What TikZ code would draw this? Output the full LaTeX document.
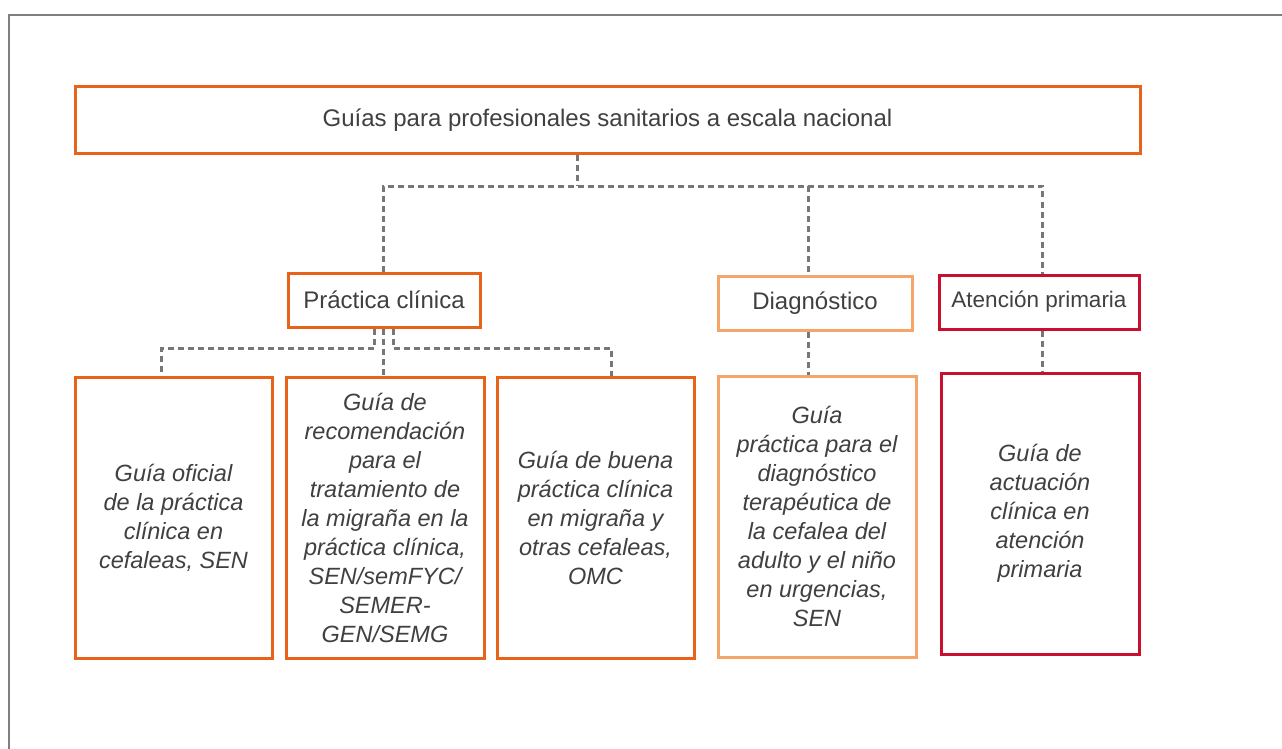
\documentclass[tikz,border=0pt]{standalone}
\usepackage{fontspec}
\setmainfont{Liberation Sans}
\begin{document}
\begin{tikzpicture}[x=1pt,y=-1pt,
  txt/.style={text=textgray, font=\fontsize{24}{29}\selectfont, align=center, inner sep=0pt},
  box/.style={draw=#1, line width=3pt, fill=white, txt, minimum width=0pt},
  guide/.style={box=#1, font=\fontsize{23.5}{29}\selectfont\itshape},
  conn/.style={draw=conngray, line width=3pt, dash pattern=on 6pt off 4pt}
]
\definecolor{textgray}{HTML}{404040}
\definecolor{conngray}{HTML}{777777}
\definecolor{orA}{HTML}{E8631A}
\definecolor{orB}{HTML}{F5A56A}
\definecolor{redA}{HTML}{C8102E}
\definecolor{framegray}{HTML}{7F7F7F}
\useasboundingbox (0,0) rectangle (1282,749);
\draw[framegray, line width=1.5pt] (9,760) -- (9,15) -- (1290,15);

\coordinate (t0) at (577,153);
\coordinate (t1) at (577,186);
\coordinate (bL) at (383,186);
\coordinate (bM) at (808,186);
\coordinate (bR) at (1042,186);
\coordinate (p1) at (374,348);
\coordinate (p1b) at (161,348);
\coordinate (p3) at (393,348);
\coordinate (p3b) at (611,348);

\node[box=orA, minimum width=1065pt, minimum height=66pt] (top) at (607.5,120) {Guías para profesionales sanitarios a escala nacional};
\node[box=orA, minimum width=192pt, minimum height=54pt] (prac) at (384,300) {Práctica clínica};
\node[box=orB, minimum width=194pt, minimum height=54pt] (diag) at (815,303) {Diagnóstico};
\node[box=redA, minimum width=200pt, minimum height=54pt, font=\fontsize{22.5}{29}\selectfont] (aten) at (1039,302) {Atención primaria};

\node[guide=orA, minimum width=197pt, minimum height=281pt] (b1) at (173.5,517.5) {Guía oficial\\de la práctica\\clínica en\\cefaleas, SEN};
\node[guide=orA, minimum width=198pt, minimum height=281pt] (b2) at (385,517.5) {Guía de\\recomendación\\para el\\tratamiento de\\la migraña en la\\práctica clínica,\\SEN/semFYC/\\SEMER-\\GEN/SEMG};
\node[guide=orA, minimum width=197pt, minimum height=281pt] (b3) at (595.5,517.5) {Guía de buena\\práctica clínica\\en migraña y\\otras cefaleas,\\OMC};
\node[guide=orB, minimum width=198pt, minimum height=281pt] (b4) at (817,516.5) {Guía\\práctica para el\\diagnóstico\\terapéutica de\\la cefalea del\\adulto y el niño\\en urgencias,\\SEN};
\node[guide=redA, minimum width=198pt, minimum height=281pt] (b5) at (1040,513.5) {Guía de\\actuación\\clínica en\\atención\\primaria};

\draw[conn] (t0 |- top.south) -- (t1);
\draw[conn] (bL |- prac.north) -- (bL) -- (bR) -- (bR |- aten.north);
\draw[conn] (bM) -- (bM |- diag.north);
\draw[conn] (p1 |- prac.south) -- (p1) -- (p1b) -- (p1b |- b1.north);
\draw[conn] (bL |- prac.south) -- (bL |- b2.north);
\draw[conn] (p3 |- prac.south) -- (p3) -- (p3b) -- (p3b |- b3.north);
\draw[conn] (bM |- diag.south) -- (bM |- b4.north);
\draw[conn] (bR |- aten.south) -- (bR |- b5.north);
\end{tikzpicture}
\end{document}
